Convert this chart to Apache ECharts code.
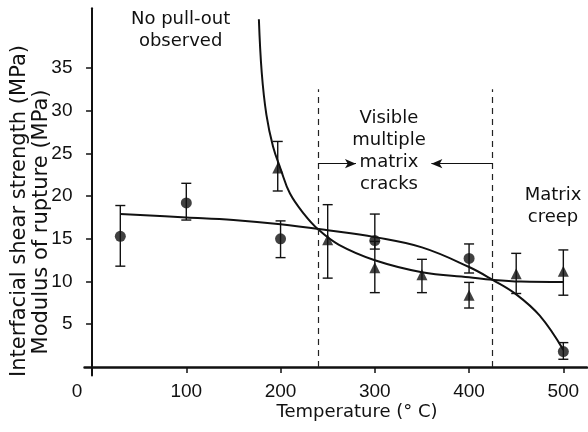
<!DOCTYPE html>
<html><head><meta charset="utf-8">
<script src="https://cdn.jsdelivr.net/npm/echarts@6/dist/echarts.min.js"></script>
<style>html,body{margin:0;padding:0;background:#fff}#c{width:588px;height:432px}</style>
</head><body><div id="c"></div>
<script>
// ---- data ----
const xTicks = [0, 100, 200, 300, 400, 500];
const yTicks = [5, 10, 15, 20, 25, 30, 35];

// Modulus of rupture (circles)
const rupT  = [30, 100, 200, 300, 400, 500];
const rupV  = [15.3, 19.2, 15.0, 14.8, 12.7, 1.8];
const rupLo = [11.8, 17.2, 12.8, 13.8, 11.0, 0.9];
const rupHi = [18.9, 21.5, 17.1, 17.9, 14.4, 2.85];

// Interfacial shear strength (triangles)
const issT  = [197, 250, 300, 350, 400, 450, 500];
const issV  = [23.3, 14.9, 11.6, 10.8, 8.4, 10.9, 11.2];
const issLo = [20.6, 10.4, 8.7, 8.7, 6.9, 8.6, 8.4];
const issHi = [26.4, 19.0, 14.7, 12.6, 9.9, 13.3, 13.7];

// fitted curves
const rupFitT = [30, 100, 150, 200, 250, 300, 350, 400, 425, 450, 475, 500];
const rupFitV = [17.9, 17.5, 17.2, 16.7, 16.0, 15.2, 14.0, 11.7, 10.2, 8.5, 6.0, 2.0];
const issFitT = [177, 180, 185, 192, 200, 210, 225, 240, 262, 300, 350, 400, 425, 455, 500];
const issFitV = [40.7, 34.5, 29.5, 25.8, 23.2, 20.3, 17.9, 16.1, 14.3, 12.5, 11.1, 10.5, 10.2, 10.0, 9.95];

// region boundaries (temperature) and arrow targets
const regionT = [240, 425];
const regionTop = 32.5;
const arrowLevel = 23.8;
const arrowTips = [280, 360];

const notes = [
  {text: 'No pull-out\nobserved', t: 94, v: 39.4},
  {text: 'Visible\nmultiple\nmatrix\ncracks', t: 315, v: 25.3},
  {text: 'Matrix\ncreep', t: 489, v: 18.8}
];

// ---- chart ----
const chart = echarts.init(document.getElementById('c'), null, {renderer: 'canvas'});
const INK = '#111';
const zip2 = (a, b) => a.map((x, i) => [x, b[i]]);
const zip3 = (a, b, c) => a.map((x, i) => [x, b[i], c[i]]);

function errBar(params, api) {
  const x = api.value(0), lo = api.value(1), hi = api.value(2);
  const p1 = api.coord([x, lo]), p2 = api.coord([x, hi]);
  const w = 5;
  const st = {stroke: INK, lineWidth: 1.4};
  return {type: 'group', children: [
    {type: 'line', shape: {x1: p1[0], y1: p1[1], x2: p2[0], y2: p2[1]}, style: st},
    {type: 'line', shape: {x1: p1[0] - w, y1: p1[1], x2: p1[0] + w, y2: p1[1]}, style: st},
    {type: 'line', shape: {x1: p2[0] - w, y1: p2[1], x2: p2[0] + w, y2: p2[1]}, style: st}
  ]};
}

const tickFont = {fontFamily: 'Liberation Sans', fontSize: 19, color: INK};

chart.setOption({
  animation: false,
  backgroundColor: '#fff',
  grid: {left: 84.5, right: 1.1, top: 8.2, bottom: 56.5, containLabel: false},
  xAxis: {
    type: 'value', min: -8, max: 525,
    axisLine: {show: true, onZero: true, lineStyle: {color: INK, width: 2.5}},
    axisTick: {show: true, customValues: xTicks, length: 6, lineStyle: {color: INK, width: 1.5}},
    axisLabel: {
      show: true, customValues: xTicks, margin: 7, ...tickFont,
      formatter: v => v === 0 ? '{z|0}' : String(v),
      rich: {z: {padding: [0, 30, 0, 0], fontFamily: 'Liberation Sans', fontSize: 19, color: INK}}
    },
    splitLine: {show: false}
  },
  yAxis: {
    type: 'value', min: -1, max: 42,
    axisLine: {show: true, onZero: true, lineStyle: {color: INK, width: 2}},
    axisTick: {show: true, customValues: yTicks, length: 6, lineStyle: {color: INK, width: 1.5}},
    axisLabel: {show: true, customValues: yTicks, margin: 12, ...tickFont},
    splitLine: {show: false}
  },
  series: [
    {
      type: 'line', data: zip2(rupFitT, rupFitV), smooth: 0.4,
      showSymbol: false, lineStyle: {color: INK, width: 2}, silent: true, z: 3,
      markLine: {
        silent: true, symbol: 'none', label: {show: false},
        lineStyle: {color: '#222', width: 1.2, type: [6, 5]},
        data: [
          [{coord: [regionT[0], 0]}, {coord: [regionT[0], regionTop]}],
          [{coord: [regionT[1], 0]}, {coord: [regionT[1], regionTop]}],
          [{coord: [regionT[0], arrowLevel], symbol: 'none', lineStyle: {type: 'solid', width: 1.2, color: INK}},
           {coord: [arrowTips[0], arrowLevel], symbol: 'arrow', symbolSize: [7, 11]}],
          [{coord: [regionT[1], arrowLevel], symbol: 'none', lineStyle: {type: 'solid', width: 1.2, color: INK}},
           {coord: [arrowTips[1], arrowLevel], symbol: 'arrow', symbolSize: [7, 11]}]
        ]
      }
    },
    {
      type: 'line', data: zip2(issFitT, issFitV), smooth: 0.4,
      showSymbol: false, lineStyle: {color: INK, width: 2}, silent: true, z: 3
    },
    {type: 'custom', renderItem: errBar, data: zip3(rupT, rupLo, rupHi), silent: true, z: 4},
    {type: 'custom', renderItem: errBar, data: zip3(issT, issLo, issHi), silent: true, z: 4},
    {type: 'scatter', data: zip2(rupT, rupV), symbol: 'circle', symbolSize: 11,
     itemStyle: {color: INK}, silent: true, z: 5},
    {type: 'scatter', data: zip2(issT, issV), symbol: 'triangle', symbolSize: [11, 11],
     itemStyle: {color: INK}, silent: true, z: 5}
  ]
});

const noteFont = 'DejaVu Sans';
const graphics = notes.map(n => {
  const p = chart.convertToPixel({gridIndex: 0}, [n.t, n.v]);
  return {type: 'text', x: p[0], y: p[1], silent: true,
    style: {text: n.text, font: '18px "' + noteFont + '"', fill: INK,
            align: 'center', verticalAlign: 'middle', lineHeight: 22}};
});
graphics.push(
  {type: 'text', x: 20, y: 211, rotation: Math.PI / 2, silent: true,
   style: {text: 'Interfacial shear strength (MPa)', font: '21px "DejaVu Sans"', fill: INK,
           align: 'center', verticalAlign: 'middle'}},
  {type: 'text', x: 42, y: 222, rotation: Math.PI / 2, silent: true,
   style: {text: 'Modulus of rupture (MPa)', font: '21px "DejaVu Sans"', fill: INK,
           align: 'center', verticalAlign: 'middle'}},
  {type: 'text', x: 357, y: 412, silent: true,
   style: {text: 'Temperature (° C)', font: '18px "DejaVu Sans"', fill: INK,
           align: 'center', verticalAlign: 'middle'}}
);
chart.setOption({graphic: graphics});
</script>
</body></html>
